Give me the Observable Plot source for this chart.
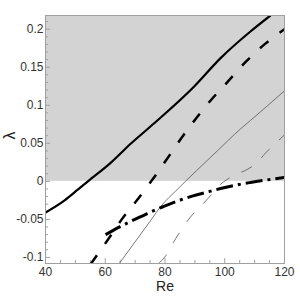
<!DOCTYPE html>
<html>
<head>
<meta charset="utf-8">
<script src="https://cdn.jsdelivr.net/npm/d3@7"></script>
<script src="https://cdn.jsdelivr.net/npm/@observablehq/plot@0.6"></script>
<style>
  html, body { margin: 0; padding: 0; background: #fff; }
</style>
</head>
<body>
<div id="chart"></div>
<script>
// Axis setup
const xDomain = [40, 120];
const yDomain = [-0.108, 0.218];
const xMajor = [40, 60, 80, 100, 120];
const xMinor = [45, 50, 55, 65, 70, 75, 85, 90, 95, 105, 110, 115];
const yMajor = [-0.1, -0.05, 0, 0.05, 0.1, 0.15, 0.2];
const yMinor = [-0.09, -0.08, -0.07, -0.06, -0.04, -0.03, -0.02, -0.01,
                0.01, 0.02, 0.03, 0.04, 0.06, 0.07, 0.08, 0.09,
                0.11, 0.12, 0.13, 0.14, 0.16, 0.17, 0.18, 0.19, 0.21];

// Curves
const reThickSolid  = [40, 46.4, 50.8, 54.2, 62, 68.7, 76.3, 89.6, 98.6, 108.6, 115.3];
const lamThickSolid = [-0.041, -0.025, -0.011, 0, 0.025, 0.050, 0.076, 0.124, 0.162, 0.197, 0.218];

const reThickDashed  = [55.1, 61.8, 65.7, 71.2, 76.3, 88.5, 95.2, 100.8, 107, 113.6, 120];
const lamThickDashed = [-0.109, -0.0715, -0.049, -0.022, 0.005, 0.073, 0.106, 0.130, 0.157, 0.181, 0.200];

const reThinSolid  = [64.7, 75.1, 79, 83.5, 97.5, 105.3, 108.6, 120];
const lamThinSolid = [-0.108, -0.052, -0.031, -0.013, 0.040, 0.069, 0.080, 0.119];

const reThinDashed  = [77.9, 80.2, 83, 88.5, 91.9, 95.2, 98, 101, 104.4, 107.7, 110.9, 113.6, 117, 120];
const lamThinDashed = [-0.108, -0.098, -0.079, -0.047, -0.033, -0.019, -0.006, 0.003, 0.010, 0.016, 0.025, 0.037, 0.050, 0.061];

const reDashDot  = [60.1, 64.5, 67.3, 69.9, 74, 76.8, 79.6, 83.5, 86.3, 89.1, 94.7, 98.6, 103.6, 108.6, 115.3, 120];
const lamDashDot = [-0.070, -0.0605, -0.055, -0.050, -0.0425, -0.0375, -0.033, -0.027, -0.023, -0.0195, -0.0135, -0.0095, -0.005, -0.0015, 0.0025, 0.005];

const toRows = (xs, ys) => xs.map((x, i) => ({x, y: ys[i]}));

const W = 300, H = 300;
const mL = 45, mR = 16, mT = 15, mB = 37;
const plotW = W - mL - mR, plotH = H - mT - mB;
const frameColor = "#a0a0a0";
const lineOpts = {x: "x", y: "y", curve: "monotone-x", clip: true, strokeLinecap: "butt"};

const chart = Plot.plot({
  width: W, height: H,
  marginLeft: mL, marginRight: mR, marginTop: mT, marginBottom: mB,
  style: {fontFamily: "'Liberation Sans', Arial, sans-serif", background: "#fff"},
  x: {domain: xDomain, axis: null},
  y: {domain: yDomain, axis: null},
  marks: [
    Plot.rect([yDomain[1]], {x1: xDomain[0], x2: xDomain[1], y1: 0, y2: d => d, fill: "#d3d3d3"}),
    // ticks (inward)
    Plot.ruleX(xMajor, {x: d => d, insetTop: plotH - 5, stroke: frameColor}),
    Plot.ruleX(xMinor, {x: d => d, insetTop: plotH - 3, stroke: frameColor}),
    Plot.ruleY(yMajor, {y: d => d, insetRight: plotW - 5, stroke: frameColor}),
    Plot.ruleY(yMinor, {y: d => d, insetRight: plotW - 3, stroke: frameColor}),
    // curves
    Plot.line(toRows(reThinSolid, lamThinSolid), {...lineOpts, stroke: "#555", strokeWidth: 0.8}),
    Plot.line(toRows(reThinDashed, lamThinDashed), {...lineOpts, stroke: "#555", strokeWidth: 0.8, strokeDasharray: "12,13"}),
    Plot.line(toRows(reDashDot, lamDashDot), {...lineOpts, stroke: "#000", strokeWidth: 3, strokeDasharray: "17,5,3,5"}),
    Plot.line(toRows(reThickDashed, lamThickDashed), {...lineOpts, stroke: "#000", strokeWidth: 2.5, strokeDasharray: "11,14"}),
    Plot.line(toRows(reThickSolid, lamThickSolid), {...lineOpts, stroke: "#000", strokeWidth: 2.2}),
    Plot.frame({stroke: frameColor}),
    // tick labels
    Plot.axisX({ticks: xMajor, tickSize: 0, tickPadding: 4, fontSize: 12, fill: "#333", label: null, tickFormat: d => String(d)}),
    Plot.axisY({ticks: yMajor, tickSize: 0, tickPadding: 2, fontSize: 12, fill: "#333", label: null, tickFormat: d => String(d)}),
    // axis titles
    Plot.text(["Re"], {frameAnchor: "bottom", dy: 27, fontSize: 14, fill: "#222", text: d => d}),
    Plot.text(["λ"], {frameAnchor: "left", dx: -36, rotate: -90, fontSize: 16, fill: "#222", text: d => d})
  ]
});
document.getElementById("chart").appendChild(chart);
</script>
</body>
</html>
